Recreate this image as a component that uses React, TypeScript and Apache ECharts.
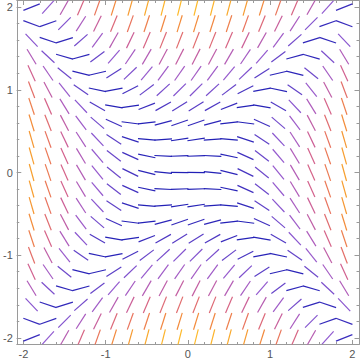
import React, { useEffect, useRef } from "react";
import * as echarts from "echarts";

// Column centres (x) and row centres (y) of the direction segments
const xs = [-1.9, -1.7, -1.5, -1.3, -1.1, -0.9, -0.7, -0.5, -0.3, -0.1, 0.1, 0.3, 0.5, 0.7, 0.9, 1.1, 1.3, 1.5, 1.7, 1.9];
const ys = [2.0, 1.8, 1.6, 1.4, 1.2, 1.0, 0.8, 0.6, 0.4, 0.2, 0.0, -0.2, -0.4, -0.6, -0.8, -1.0, -1.2, -1.4, -1.6, -1.8, -2.0];

// Slope (dy/dx) of each segment, one row per y value, one column per x value
const slopes = [
  [0.39, 1.11, 1.75, 2.31, 2.79, 3.19, 3.51, 3.75, 3.91, 3.99, 3.99, 3.91, 3.75, 3.51, 3.19, 2.79, 2.31, 1.75, 1.11, 0.39],
  [-0.37, 0.35, 0.99, 1.55, 2.03, 2.43, 2.75, 2.99, 3.15, 3.23, 3.23, 3.15, 2.99, 2.75, 2.43, 2.03, 1.55, 0.99, 0.35, -0.37],
  [-1.05, -0.33, 0.31, 0.87, 1.35, 1.75, 2.07, 2.31, 2.47, 2.55, 2.55, 2.47, 2.31, 2.07, 1.75, 1.35, 0.87, 0.31, -0.33, -1.05],
  [-1.65, -0.93, -0.29, 0.27, 0.75, 1.15, 1.47, 1.71, 1.87, 1.95, 1.95, 1.87, 1.71, 1.47, 1.15, 0.75, 0.27, -0.29, -0.93, -1.65],
  [-2.17, -1.45, -0.81, -0.25, 0.23, 0.63, 0.95, 1.19, 1.35, 1.43, 1.43, 1.35, 1.19, 0.95, 0.63, 0.23, -0.25, -0.81, -1.45, -2.17],
  [-2.61, -1.89, -1.25, -0.69, -0.21, 0.19, 0.51, 0.75, 0.91, 0.99, 0.99, 0.91, 0.75, 0.51, 0.19, -0.21, -0.69, -1.25, -1.89, -2.61],
  [-2.97, -2.25, -1.61, -1.05, -0.57, -0.17, 0.15, 0.39, 0.55, 0.63, 0.63, 0.55, 0.39, 0.15, -0.17, -0.57, -1.05, -1.61, -2.25, -2.97],
  [-3.25, -2.53, -1.89, -1.33, -0.85, -0.45, -0.13, 0.11, 0.27, 0.35, 0.35, 0.27, 0.11, -0.13, -0.45, -0.85, -1.33, -1.89, -2.53, -3.25],
  [-3.45, -2.73, -2.09, -1.53, -1.05, -0.65, -0.33, -0.09, 0.07, 0.15, 0.15, 0.07, -0.09, -0.33, -0.65, -1.05, -1.53, -2.09, -2.73, -3.45],
  [-3.57, -2.85, -2.21, -1.65, -1.17, -0.77, -0.45, -0.21, -0.05, 0.03, 0.03, -0.05, -0.21, -0.45, -0.77, -1.17, -1.65, -2.21, -2.85, -3.57],
  [-3.61, -2.89, -2.25, -1.69, -1.21, -0.81, -0.49, -0.25, -0.09, -0.01, -0.01, -0.09, -0.25, -0.49, -0.81, -1.21, -1.69, -2.25, -2.89, -3.61],
  [-3.57, -2.85, -2.21, -1.65, -1.17, -0.77, -0.45, -0.21, -0.05, 0.03, 0.03, -0.05, -0.21, -0.45, -0.77, -1.17, -1.65, -2.21, -2.85, -3.57],
  [-3.45, -2.73, -2.09, -1.53, -1.05, -0.65, -0.33, -0.09, 0.07, 0.15, 0.15, 0.07, -0.09, -0.33, -0.65, -1.05, -1.53, -2.09, -2.73, -3.45],
  [-3.25, -2.53, -1.89, -1.33, -0.85, -0.45, -0.13, 0.11, 0.27, 0.35, 0.35, 0.27, 0.11, -0.13, -0.45, -0.85, -1.33, -1.89, -2.53, -3.25],
  [-2.97, -2.25, -1.61, -1.05, -0.57, -0.17, 0.15, 0.39, 0.55, 0.63, 0.63, 0.55, 0.39, 0.15, -0.17, -0.57, -1.05, -1.61, -2.25, -2.97],
  [-2.61, -1.89, -1.25, -0.69, -0.21, 0.19, 0.51, 0.75, 0.91, 0.99, 0.99, 0.91, 0.75, 0.51, 0.19, -0.21, -0.69, -1.25, -1.89, -2.61],
  [-2.17, -1.45, -0.81, -0.25, 0.23, 0.63, 0.95, 1.19, 1.35, 1.43, 1.43, 1.35, 1.19, 0.95, 0.63, 0.23, -0.25, -0.81, -1.45, -2.17],
  [-1.65, -0.93, -0.29, 0.27, 0.75, 1.15, 1.47, 1.71, 1.87, 1.95, 1.95, 1.87, 1.71, 1.47, 1.15, 0.75, 0.27, -0.29, -0.93, -1.65],
  [-1.05, -0.33, 0.31, 0.87, 1.35, 1.75, 2.07, 2.31, 2.47, 2.55, 2.55, 2.47, 2.31, 2.07, 1.75, 1.35, 0.87, 0.31, -0.33, -1.05],
  [-0.37, 0.35, 0.99, 1.55, 2.03, 2.43, 2.75, 2.99, 3.15, 3.23, 3.23, 3.15, 2.99, 2.75, 2.43, 2.03, 1.55, 0.99, 0.35, -0.37],
  [0.39, 1.11, 1.75, 2.31, 2.79, 3.19, 3.51, 3.75, 3.91, 3.99, 3.99, 3.91, 3.75, 3.51, 3.19, 2.79, 2.31, 1.75, 1.11, 0.39],
];

const majorTicks = [-2, -1, 0, 1, 2];
const minorTicks = [-2, -1.8, -1.6, -1.4, -1.2, -1, -0.8, -0.6, -0.4, -0.2, 0, 0.2, 0.4, 0.6, 0.8, 1, 1.2, 1.4, 1.6, 1.8, 2];

// colour gradient by vector length
const colorStops: [number, number[]][] = [
  [1.0, [0x22, 0x20, 0xb6]],
  [1.2, [0x60, 0x42, 0xc8]],
  [1.5, [0x92, 0x5a, 0xd0]],
  [1.9, [0xae, 0x5c, 0xbc]],
  [2.4, [0xd2, 0x60, 0x8e]],
  [2.9, [0xe8, 0x72, 0x5e]],
  [3.4, [0xf3, 0x8c, 0x3a]],
  [3.8, [0xf8, 0xa2, 0x2c]],
  [4.12, [0xfd, 0xb9, 0x2a]],
];

function colorFor(m: number): string {
  if (m <= colorStops[0][0]) return `rgb(${colorStops[0][1].join(",")})`;
  for (let i = 1; i < colorStops.length; i++) {
    const [v1, c1] = colorStops[i];
    const [v0, c0] = colorStops[i - 1];
    if (m <= v1) {
      const t = (m - v0) / (v1 - v0);
      const c = c0.map((a, k) => Math.round(a + (c1[k] - a) * t));
      return `rgb(${c.join(",")})`;
    }
  }
  return `rgb(${colorStops[colorStops.length - 1][1].join(",")})`;
}

const FRAME = "#9a9a9a";
const LABEL = "#555555";
const HALF = 8.8;

export default function App() {
  const ref = useRef<HTMLDivElement>(null);
  useEffect(() => {
    const chart = echarts.init(ref.current!, null, { renderer: "svg" });
    const data: number[][] = [];
    ys.forEach((y, i) =>
      xs.forEach((x, j) => {
        const s = slopes[i][j];
        data.push([x, y, s, Math.sqrt(1 + s * s)]);
      })
    );
    const base = {
      type: "value",
      min: -2.08,
      max: 2.08,
      splitLine: { show: false },
      axisLine: { show: true, onZero: false, lineStyle: { color: FRAME, width: 1 } },
    };
    const major = (labels: boolean, pos: string) => ({
      ...base,
      position: pos,
      axisTick: { show: true, inside: true, length: 4.5, customValues: majorTicks, lineStyle: { color: FRAME } },
      axisLabel: labels
        ? { show: true, customValues: majorTicks, color: LABEL, fontSize: 11, margin: 4, fontFamily: "Liberation Sans, Arial, sans-serif", formatter: (v: number) => String(v) }
        : { show: false },
    });
    const minor = (pos: string) => ({
      ...base,
      position: pos,
      axisLine: { show: false, onZero: false },
      axisTick: { show: true, inside: true, length: 2.5, customValues: minorTicks, lineStyle: { color: FRAME } },
      axisLabel: { show: false },
    });
    chart.setOption({
      animation: false,
      backgroundColor: "#ffffff",
      grid: { left: 13, top: 0.5, right: 1, bottom: 16.5, containLabel: false },
      xAxis: [major(true, "bottom"), minor("bottom"), major(false, "top"), minor("top")],
      yAxis: [major(true, "left"), minor("left"), major(false, "right"), minor("right")],
      series: [
        {
          type: "custom",
          xAxisIndex: 0,
          yAxisIndex: 0,
          clip: true,
          data,
          renderItem: (params: any, api: any) => {
            const c = api.coord([api.value(0), api.value(1)]);
            const sz = api.size([1, 1]);
            const s = api.value(2);
            let dx = sz[0];
            let dy = -s * sz[1];
            const n = Math.hypot(dx, dy);
            dx = (dx / n) * HALF;
            dy = (dy / n) * HALF;
            return {
              type: "line",
              shape: { x1: c[0] - dx, y1: c[1] - dy, x2: c[0] + dx, y2: c[1] + dy },
              style: { stroke: colorFor(api.value(3)), lineWidth: 1.2, lineCap: "butt" },
            };
          },
        },
      ],
    });
    return () => chart.dispose();
  }, []);
  return <div ref={ref} style={{ position: "fixed", left: 0, top: 0, width: 360, height: 361 }} />;
}
